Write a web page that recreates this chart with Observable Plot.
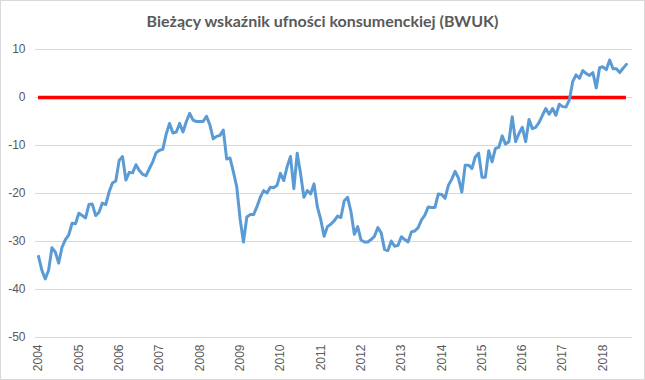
<!DOCTYPE html>
<html><head><meta charset="utf-8">
<script src="https://cdn.jsdelivr.net/npm/d3@7"></script>
<script src="https://cdn.jsdelivr.net/npm/@observablehq/plot@0.6"></script>
<style>
html,body{margin:0;padding:0;background:#fff;}
#chart{width:645px;height:380px;box-sizing:border-box;border:1px solid #d9d9d9;overflow:hidden;background:#fff;}
#title{height:39px;box-sizing:border-box;padding-top:10px;text-align:center;font:bold 16px Lato, "Open Sans", sans-serif;color:#595959;line-height:20px;}
#plot svg{display:block;}
</style></head><body>
<div id="chart"><div id="title">Bieżący wskaźnik ufności konsumenckiej (BWUK)</div><div id="plot"></div></div>
<script>
// Monthly values, Jan 2004 – Aug 2018
const startYear = 2004;
const bwuk = [
-33.1,-36,-37.8,-36,-31.3,-32.2,-34.5,-31.2,-29.6,-28.6,-26.2,-26.3,
-24.1,-24.6,-25.1,-22.3,-22.2,-24.6,-23.9,-22,-22.3,-19.7,-17.8,-17.4,
-13.1,-12.3,-17.2,-15.6,-15.7,-14,-15.2,-16,-16.3,-14.8,-13.4,-11.5,
-11,-10.8,-7.6,-5.4,-7.4,-7.2,-5.4,-7.2,-5,-3.3,-4.7,-5,
-5,-5,-3.9,-5.7,-8.6,-8.1,-7.9,-6.8,-12.8,-12.6,-15.5,-18.6,
-25.3,-30.1,-24.9,-24.4,-24.4,-22.8,-20.8,-19.4,-19.9,-18.7,-18.8,-18.3,
-15.8,-17.3,-14.4,-12.3,-19,-11.6,-15.9,-20.8,-19.4,-20.1,-18,-22.8,
-25.4,-28.9,-26.9,-26.4,-25.7,-24.7,-25,-21.5,-20.8,-23.8,-28.5,-26.9,
-29.7,-30.1,-30.1,-29.6,-28.9,-27.1,-28.2,-31.7,-31.9,-29.9,-31,-30.8,
-29,-29.6,-30.1,-28,-27.8,-27.1,-25.5,-24.5,-22.8,-22.9,-22.9,-20.1,
-20.2,-21,-18.3,-17,-15.4,-16.8,-19.7,-14.1,-14.1,-14.8,-12.4,-11.6,
-16.6,-16.6,-11.1,-13.4,-10.6,-10.4,-8,-9.7,-9.2,-4,-9.2,-7.5,
-6.2,-9.2,-4.6,-6.5,-6.2,-5.2,-3.7,-2.3,-3.5,-2.3,-3.7,-1.4,
-1.9,-2,-0.5,3.3,4.7,4,5.6,5,4.6,5.2,2,6.2,
6.4,5.8,7.8,6,6,5.2,6.1,6.9
];
const yearLabels = ["2004","2005","2006","2007","2008","2009","2010","2011","2012","2013","2014","2015","2016","2017","2018"];
const yTicks = [-50,-40,-30,-20,-10,0,10];
const referenceLevel = [0];

const data = bwuk.map((v, i) => ({i, v}));

const chart = Plot.plot({
  width: 643, height: 339,
  marginTop: 9, marginBottom: 42, marginLeft: 34, marginRight: 12,
  style: {fontFamily: "'Liberation Sans', Arial, sans-serif", fontSize: "12px", color: "#595959", background: "transparent"},
  x: {domain: [-0.9, 176.8], ticks: yearLabels.map((_, k) => k * 12), tickFormat: d => yearLabels[Math.round(d / 12)], tickSize: 0, tickRotate: -90, tickPadding: 7, label: null},
  y: {domain: [-50, 10], ticks: yTicks, tickSize: 0, tickPadding: 10, tickFormat: d => String(d), label: null},
  marks: [
    Plot.ruleY(yTicks, {stroke: "#d9d9d9", strokeWidth: 1}),
    Plot.ruleY(referenceLevel, {x1: 0, x2: bwuk.length - 1, stroke: "#ff0000", strokeWidth: 3.5}),
    Plot.lineY(data, {x: "i", y: "v", stroke: "#5b9bd5", strokeWidth: 3, strokeLinejoin: "round", strokeLinecap: "round"})
  ]
});
document.getElementById("plot").appendChild(chart);
</script>
</body></html>
